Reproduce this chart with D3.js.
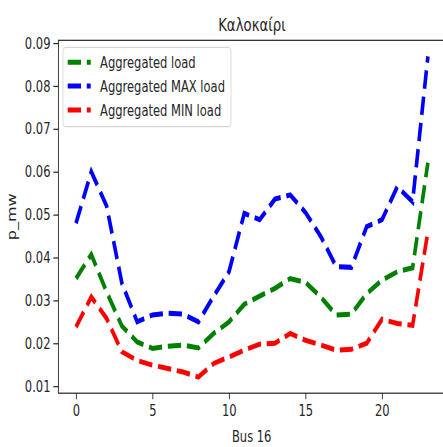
<!DOCTYPE html>
<html>
<head>
<meta charset="utf-8">
<script src="https://cdn.jsdelivr.net/npm/d3@7"></script>
<style>
  body { margin: 0; background: #fff; }
  text { font-family: "DejaVu Sans", sans-serif; fill: #262626; }
</style>
</head>
<body>
<div id="chart"></div>
<script>
'use strict';

// hours of the day (bus 16, summer)
const hours = [0, 1, 2, 3, 4, 5, 6, 7, 8, 9, 10, 11, 12, 13, 14, 15, 16, 17, 18, 19, 20, 21, 22, 23];

const aggLoad = [0.0351, 0.0407, 0.0320, 0.0240, 0.0203, 0.0188, 0.0193, 0.0196, 0.0189, 0.0223, 0.0250, 0.0291,
                 0.0310, 0.0328, 0.0351, 0.0342, 0.0308, 0.0266, 0.0268, 0.0316, 0.0347, 0.0367, 0.0376, 0.0621];
const maxLoad = [0.0480, 0.0600, 0.0520, 0.0340, 0.0250, 0.0266, 0.0270, 0.0268, 0.0250, 0.0310, 0.0367, 0.0503,
                 0.0488, 0.0536, 0.0546, 0.0505, 0.0449, 0.0379, 0.0377, 0.0472, 0.0488, 0.0565, 0.0530, 0.0869];
const minLoad = [0.0238, 0.0308, 0.0258, 0.0180, 0.0160, 0.0149, 0.0141, 0.0133, 0.0121, 0.0153, 0.0168, 0.0184,
                 0.0198, 0.0200, 0.0223, 0.0207, 0.0196, 0.0184, 0.0186, 0.0200, 0.0256, 0.0246, 0.0242, 0.0460];

const seriesNames = ["Aggregated load", "Aggregated MAX load", "Aggregated MIN load"];
const seriesColors = ["#008000", "#0000ff", "#ff0000"];
const yTicks = [0.01, 0.02, 0.03, 0.04, 0.05, 0.06, 0.07, 0.08, 0.09];
const xTicks = [0, 5, 10, 15, 20];

(function() {
    let width = 443, height = 447;
    let sx = 0.72; // the original picture is squeezed horizontally

    let svg = d3.select("#chart").append("svg")
        .attr("width", width)
        .attr("height", height)
        .style("display", "block");

    svg.append("rect").attr("width", width).attr("height", height).attr("fill", "#fff");

    // everything drawn in "virtual" coords then squeezed along x
    let root = svg.append("g").attr("transform", "scale(" + sx + ",1)");

    let plotL = 58.4 / sx, plotR = 445.5 / sx, plotT = 40.3, plotB = 393.2;

    let allSeries = [aggLoad, maxLoad, minLoad];
    let xExt = d3.extent(hours), yExt = d3.extent(allSeries.flat());
    let xPad = (xExt[1] - xExt[0]) * 0.05, yPad = (yExt[1] - yExt[0]) * 0.05;

    let x = d3.scaleLinear().domain([xExt[0] - xPad, xExt[1] + xPad]).range([plotL, plotR]);
    let y = d3.scaleLinear().domain([yExt[0] - yPad, yExt[1] + yPad]).range([plotB, plotT]);

    // lines
    let line = d3.line()
        .x(function(d, i) { return x(hours[i]); })
        .y(function(d) { return y(d); });

    root.append("g")
        .selectAll("path")
        .data(allSeries)
        .enter().append("path")
        .attr("d", line)
        .attr("fill", "none")
        .attr("stroke", function(d, i) { return seriesColors[i]; })
        .attr("stroke-width", 5)
        .attr("stroke-dasharray", "18.5,8");

    // spines
    root.append("rect")
        .attr("x", plotL).attr("y", plotT)
        .attr("width", plotR - plotL).attr("height", plotB - plotT)
        .attr("fill", "none")
        .attr("stroke", "#222")
        .attr("stroke-width", 1.2);

    // x axis
    let xAxis = root.append("g")
        .attr("transform", "translate(0," + plotB + ")")
        .call(d3.axisBottom(x).tickValues(xTicks).tickSize(6).tickPadding(5).tickFormat(d3.format("d")));
    xAxis.select(".domain").remove();
    xAxis.selectAll("line").attr("stroke", "#222").attr("stroke-width", 1.2);
    xAxis.selectAll("text").attr("font-size", 16).attr("fill", "#333");

    // y axis
    let yAxis = root.append("g")
        .attr("transform", "translate(" + plotL + ",0)")
        .call(d3.axisLeft(y).tickValues(yTicks).tickSize(7).tickPadding(4).tickFormat(d3.format(".2f")));
    yAxis.select(".domain").remove();
    yAxis.selectAll("line").attr("stroke", "#222").attr("stroke-width", 1.2);
    yAxis.selectAll("text").attr("font-size", 16).attr("fill", "#333");

    // title and labels
    root.append("text")
        .attr("x", (plotL + plotR) / 2).attr("y", 31.5)
        .attr("text-anchor", "middle")
        .attr("font-size", 18.5)
        .text("Καλοκαίρι");

    root.append("text")
        .attr("x", 251.7 / sx).attr("y", 442.5)
        .attr("text-anchor", "middle")
        .attr("font-size", 16)
        .attr("fill", "#333")
        .text("Bus 16");

    root.append("text")
        .attr("transform", "translate(" + (16.5 / sx) + "," + ((plotT + plotB) / 2) + ") rotate(-90)")
        .attr("text-anchor", "middle")
        .attr("font-size", 16)
        .attr("fill", "#333")
        .text("p_mw");

    // legend
    let legend = root.append("g");
    legend.append("rect")
        .attr("x", 63 / sx).attr("y", 47.3)
        .attr("width", (231 - 63) / sx).attr("height", 79.4)
        .attr("rx", 4)
        .attr("fill", "#fff").attr("fill-opacity", 0.8)
        .attr("stroke", "#d6d6d6").attr("stroke-width", 1.2);

    let rowY = [62.3, 85.9, 110];
    let item = legend.selectAll("g.item")
        .data(seriesNames)
        .enter().append("g")
        .attr("class", "item")
        .attr("transform", function(d, i) { return "translate(0," + rowY[i] + ")"; });

    item.append("line")
        .attr("x1", 67.7 / sx).attr("x2", 90.7 / sx)
        .attr("stroke", function(d, i) { return seriesColors[i]; })
        .attr("stroke-width", 5)
        .attr("stroke-dasharray", "18.5,8");

    item.append("text")
        .attr("x", 100 / sx).attr("y", 5.8)
        .attr("font-size", 16)
        .attr("fill", "#333")
        .text(function(d) { return d; });
})();
</script>
</body>
</html>
